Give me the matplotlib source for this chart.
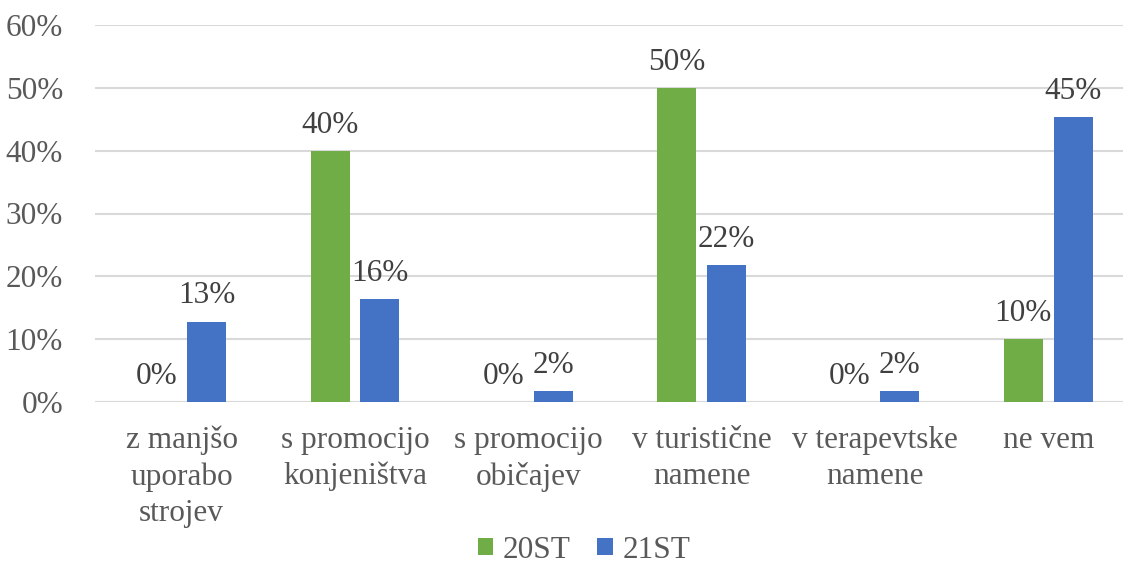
import numpy as np
import matplotlib
matplotlib.use('Agg')
import matplotlib.pyplot as plt

# categories and survey shares (percent)
categories = ['z manjšo\nuporabo\nstrojev', 's promocijo\nkonjeništva', 's promocijo\nobičajev',
              'v turistične\nnamene', 'v terapevtske\nnamene', 'ne vem']
series_names = ['20ST', '21ST']
vals_20st = [0, 40, 0, 50, 0, 10]
vals_21st = [12.8, 16.4, 1.8, 21.8, 1.8, 45.3]
y_ticks = [0, 10, 20, 30, 40, 50, 60]

green = '#70AD47'
blue = '#4472C4'

plt.rcParams['font.family'] = ['Liberation Serif', 'DejaVu Serif']
fs = 22.5

fig = plt.figure(figsize=(11.23, 5.68), dpi=100)
# axes runs past the right edge like in the reference (cropped)
ax = fig.add_axes([95/1123, 166/568, 1040/1123, 377/568])

x = np.arange(len(categories))
w = 0.225
off = 0.144
b1 = ax.bar(x - off, vals_20st, w, color=green, label=series_names[0], zorder=3)
b2 = ax.bar(x + off, vals_21st, w, color=blue, label=series_names[1], zorder=3)

fmt = lambda v: f'{v:.0f}%'
ax.bar_label(b1, labels=[fmt(v) for v in vals_20st], padding=8, fontsize=fs, color='#404040')
ax.bar_label(b2, labels=[fmt(v) for v in vals_21st], padding=8, fontsize=fs, color='#404040')

ax.set_xlim(-0.5, len(categories) - 0.5)
ax.set_ylim(0, 60)
ax.set_yticks(y_ticks)
ax.set_yticklabels([f'{t}%' for t in y_ticks])
ax.set_xticks(x)
ax.set_xticklabels(categories, linespacing=1.32)

ax.tick_params(axis='both', length=0, labelsize=fs, colors='#595959')
ax.tick_params(axis='x', pad=17)
ax.tick_params(axis='y', pad=23)

ax.yaxis.grid(True, color='#D9D9D9', linewidth=1.5, zorder=0)
for s in ['top', 'right', 'left', 'bottom']:
    ax.spines[s].set_visible(False)
ax.axhline(0, color='#D9D9D9', linewidth=1.5, zorder=1)

fig.legend(handles=[b1, b2], labels=series_names, loc='center',
           bbox_to_anchor=(584/1123, 1 - 550/568), ncol=2, frameon=False,
           fontsize=fs, handlelength=0.5, handleheight=0.5, handletextpad=0.3,
           columnspacing=0.85, labelcolor='#595959', borderpad=0.1)

fig.savefig('out.png', dpi=100)
